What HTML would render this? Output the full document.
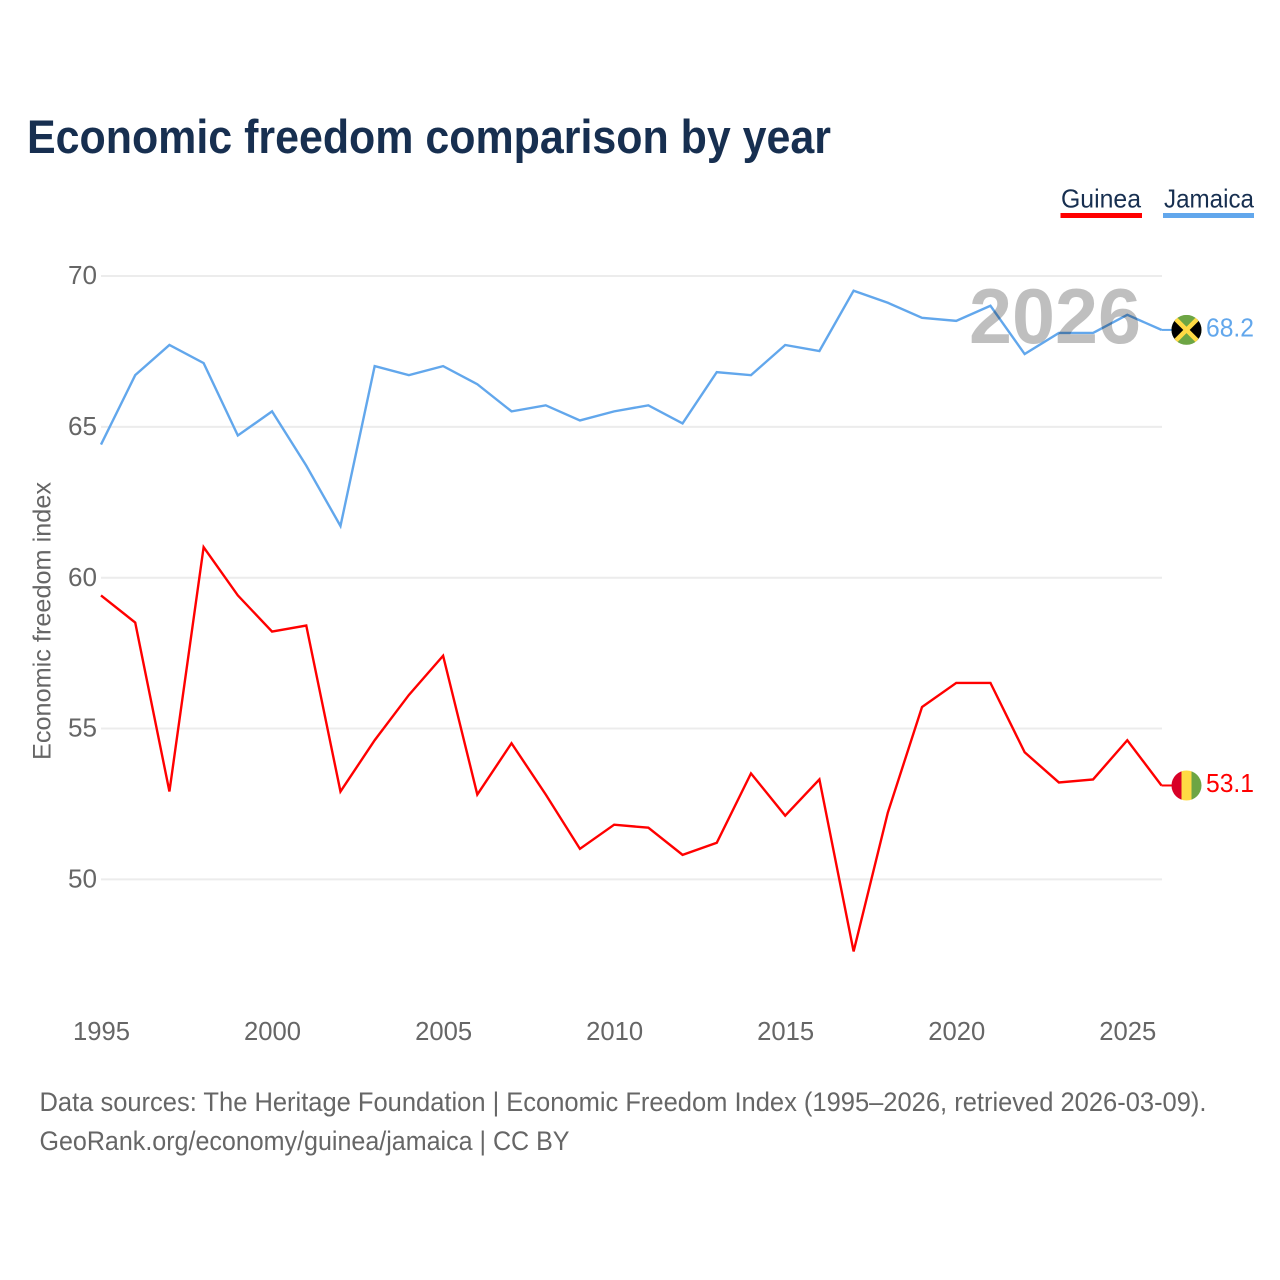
<!DOCTYPE html>
<html lang="en">
<head>
<meta charset="utf-8">
<title>Economic freedom comparison by year</title>
<style>
html,body{margin:0;padding:0;background:#fff;width:1280px;height:1280px;overflow:hidden}
svg{display:block}
text{font-family:"Liberation Sans",sans-serif}
</style>
</head>
<body>
<svg id="chart" xmlns="http://www.w3.org/2000/svg" width="1280" height="1280" viewBox="0 0 1280 1280">
  <rect x="0" y="0" width="1280" height="1280" fill="#ffffff"/>
  <text x="27" y="153" font-size="47" font-weight="700" fill="#172f50" textLength="804" lengthAdjust="spacingAndGlyphs">Economic freedom comparison by year</text>

  <g>
    <text x="1061" y="207.5" font-size="26" fill="#172f50" textLength="80" lengthAdjust="spacingAndGlyphs">Guinea</text>
    <rect x="1060.5" y="213" width="81.5" height="5" fill="#ff0000"/>
  </g>
  <g>
    <text x="1164" y="207.5" font-size="26" fill="#172f50" textLength="90" lengthAdjust="spacingAndGlyphs">Jamaica</text>
    <rect x="1163" y="213" width="91" height="5" fill="#62a7ec"/>
  </g>

  <g id="grid"></g>
  <g id="yticks"></g>
  <g id="xticks"></g>

  <text transform="translate(50.5,760) rotate(-90)" x="0" y="0" font-size="25" fill="#666666" textLength="278" lengthAdjust="spacingAndGlyphs">Economic freedom index</text>

  <g id="series"></g>

  <text x="969" y="343" font-size="78" font-weight="700" fill="#000000" fill-opacity="0.25" textLength="172" lengthAdjust="spacingAndGlyphs">2026</text>

  <g id="ends"></g>

  <text x="39.5" y="1111" font-size="26.5" fill="#666666" textLength="1167" lengthAdjust="spacingAndGlyphs">Data sources: The Heritage Foundation | Economic Freedom Index (1995–2026, retrieved 2026-03-09).</text>
  <text x="39.5" y="1150" font-size="26.5" fill="#666666" textLength="530" lengthAdjust="spacingAndGlyphs">GeoRank.org/economy/guinea/jamaica | CC BY</text>
</svg>

<script>
const years = [1995,1996,1997,1998,1999,2000,2001,2002,2003,2004,2005,2006,2007,2008,2009,2010,2011,2012,2013,2014,2015,2016,2017,2018,2019,2020,2021,2022,2023,2024,2025,2026];
const guineaValues = [59.4,58.5,52.9,61.0,59.4,58.2,58.4,52.9,54.6,56.1,57.4,52.8,54.5,52.8,51.0,51.8,51.7,50.8,51.2,53.5,52.1,53.3,47.6,52.2,55.7,56.5,56.5,54.2,53.2,53.3,54.6,53.1];
const jamaicaValues = [64.4,66.7,67.7,67.1,64.7,65.5,63.7,61.7,67.0,66.7,67.0,66.4,65.5,65.7,65.2,65.5,65.7,65.1,66.8,66.7,67.7,67.5,69.5,69.1,68.6,68.5,69.0,67.4,68.1,68.1,68.7,68.2];
const yTickValues = [50,55,60,65,70];
const xTickValues = [1995,2000,2005,2010,2015,2020,2025];

const NS = 'http://www.w3.org/2000/svg';
function xScale(year){ return 101 + (year - 1995) * (1161.5 - 101) / 31; }
function yScale(v){ return 879 - (v - 50) * (879 - 275.6) / 20; }
function make(tag, attrs, parent){
  const el = document.createElementNS(NS, tag);
  for (const k in attrs) el.setAttribute(k, attrs[k]);
  parent.appendChild(el);
  return el;
}

const grid = document.getElementById('grid');
const yticks = document.getElementById('yticks');
yTickValues.forEach(function(v){
  const line = make('line', {x1:101, x2:1162, y1:yScale(v)+0.4, y2:yScale(v)+0.4, stroke:'#ececec', 'stroke-width':2}, grid);
  
  
  const t = make('text', {x:97, y:yScale(v)+8.5, 'font-size':25.5, fill:'#666666', 'text-anchor':'end', textLength:29, lengthAdjust:'spacingAndGlyphs'}, yticks);
  
  
  t.textContent = String(v);
});

const xticks = document.getElementById('xticks');
xTickValues.forEach(function(y){
  const t = make('text', {x:xScale(y)+0.5, y:1040, 'font-size':25.5, fill:'#666666', 'text-anchor':'middle', textLength:57, lengthAdjust:'spacingAndGlyphs'}, xticks);
  
  
  t.textContent = String(y);
});

function pathFor(values){
  return values.map(function(v,i){ return (i ? 'L' : 'M') + xScale(years[i]).toFixed(2) + ' ' + yScale(v).toFixed(2); }).join(' ');
}
const series = document.getElementById('series');
const guineaLine = make('path', {d:pathFor(guineaValues), fill:'none', stroke:'#ff0000', 'stroke-width':2.4, 'stroke-linejoin':'miter'}, series);


const jamaicaLine = make('path', {d:pathFor(jamaicaValues), fill:'none', stroke:'#62a7ec', 'stroke-width':2.4, 'stroke-linejoin':'miter'}, series);



const ends = document.getElementById('ends');
const defs = make('defs', {}, ends);
const clip = make('clipPath', {id:'flag-clip'}, defs);
make('circle', {cx:0, cy:0, r:15}, clip);

function endMarker(name, values, color){
  const last = values[values.length - 1];
  const y = yScale(last);
  const conn = make('line', {x1:1161.5, x2:1172, y1:y, y2:y, stroke:color, 'stroke-width':2}, ends);
  
  
  const g = make('g', {transform:'translate(1186.5,' + y.toFixed(2) + ')'}, ends);
  
  
  const inner = make('g', {'clip-path':'url(#flag-clip)'}, g);
  if (name === 'jamaica') {
    make('rect', {x:-15, y:-15, width:30, height:30, fill:'#6da544'}, inner);
    make('polygon', {points:'-15,-15 0,0 -15,15', fill:'#000000'}, inner);
    make('polygon', {points:'15,-15 0,0 15,15', fill:'#000000'}, inner);
    make('line', {x1:-15, y1:-15, x2:15, y2:15, stroke:'#ffda44', 'stroke-width':4.5}, inner);
    make('line', {x1:15, y1:-15, x2:-15, y2:15, stroke:'#ffda44', 'stroke-width':4.5}, inner);
  } else {
    make('rect', {x:-15, y:-15, width:10, height:30, fill:'#d80027'}, inner);
    make('rect', {x:-5, y:-15, width:10, height:30, fill:'#ffda44'}, inner);
    make('rect', {x:5, y:-15, width:10, height:30, fill:'#6da544'}, inner);
  }
  const t = make('text', {x:1206, y:y+6.5, 'font-size':25.5, fill:color, textLength:48, lengthAdjust:'spacingAndGlyphs'}, ends);
  
  
  t.textContent = last.toFixed(1);
}
endMarker('guinea', guineaValues, '#ff0000');
endMarker('jamaica', jamaicaValues, '#62a7ec');
</script>
</body>
</html>
